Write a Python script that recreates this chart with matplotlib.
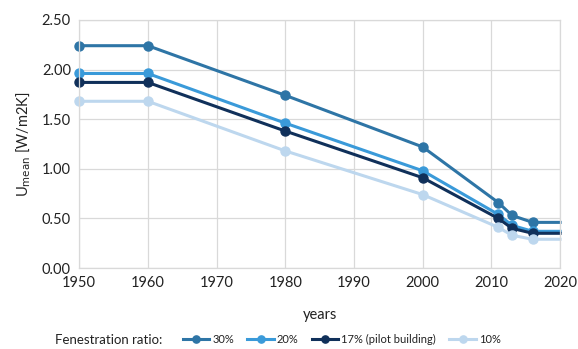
import matplotlib.pyplot as plt

plt.rcParams['font.family'] = ['Lato', 'DejaVu Sans']

years = [1950, 1960, 1980, 2000, 2011, 2013, 2016, 2020]
u_30 = [2.24, 2.24, 1.74, 1.22, 0.66, 0.53, 0.46, 0.46]
u_20 = [1.96, 1.96, 1.46, 0.98, 0.54, 0.43, 0.37, 0.37]
u_17 = [1.87, 1.87, 1.38, 0.91, 0.50, 0.40, 0.35, 0.35]
u_10 = [1.68, 1.68, 1.18, 0.74, 0.41, 0.33, 0.29, 0.29]

labels = ['30%', '20%', '17% (pilot building)', '10%']
colors = ['#2E75A6', '#3A9AD9', '#10305A', '#BDD7EE']
series = [u_30, u_20, u_17, u_10]

fig = plt.figure(figsize=(5.78, 3.49), dpi=100)
ax = fig.add_axes([0.137, 0.232, 0.832, 0.711])

for vals, lab, col in zip(series, labels, colors):
    # last point (2020) is just the end of the line, no marker
    ax.plot(years, vals, color=col, lw=2.2, label=lab, clip_on=False,
            marker='o', markersize=6.5, markevery=list(range(len(years) - 1)))

ax.set_xlim(1950, 2020)
ax.set_ylim(0, 2.5)
ax.set_xticks(range(1950, 2021, 10))
ax.set_yticks([0, 0.5, 1.0, 1.5, 2.0, 2.5])
ax.set_yticklabels([f'{v:.2f}' for v in ax.get_yticks()])
ax.grid(True, color='#D9D9D9', lw=0.9)
ax.set_axisbelow(True)
for s in ax.spines.values():
    s.set_color('#D9D9D9')
    s.set_linewidth(0.9)
ax.tick_params(length=0, labelsize=10.5, colors='#222222', pad=6)
ax.set_xlabel('years', fontsize=10.5, color='#222222', labelpad=13)
ax.set_ylabel('U$_{\\mathrm{mean}}$ [W/m2K]', fontsize=10.5, color='#222222', labelpad=6)

fig.text(0.095, 0.027, 'Fenestration ratio:', fontsize=9.5, color='#222222', va='center')
fig.legend(loc='center left', bbox_to_anchor=(0.316, 0.027), ncol=4, frameon=False,
           fontsize=8, handlelength=2.4, columnspacing=1.2, handletextpad=0.25,
           markerscale=0.8, borderaxespad=0, borderpad=0, labelcolor='#222222')

fig.savefig('out.png', dpi=100)
